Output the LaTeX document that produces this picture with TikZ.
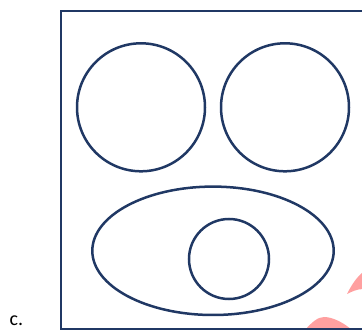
\documentclass[tikz,border=0pt]{standalone}
\usepackage{fontspec}
\setmainfont{Carlito}
\definecolor{navy}{RGB}{32,56,100}
\definecolor{wm}{RGB}{255,160,160}
\begin{document}
\begin{tikzpicture}[x=1pt,y=-1pt,
  shapeline/.style={draw=navy,line width=2.5pt}]
\useasboundingbox (0,0) rectangle (362,331);
\begin{scope}
\clip (0,0) rectangle (362,331);
% watermark fragments
\fill[wm] (347,294) .. controls (352,284) and (357,277) .. (363,272) -- (363,289) .. controls (357,289) and (351,292) .. (347,294) -- cycle;
\fill[wm] (305,330) .. controls (312,322) and (318,317) .. (324,317) .. controls (333,317) and (344,323) .. (352,330) -- cycle;
% frame (right side beyond picture)
\draw[draw=navy,line width=2.4pt] (370,11.3) coordinate (tr) -- (61,11.3) coordinate (tl) -- (61,328.8) coordinate (bl) -- (370,328.8) coordinate (br);
\end{scope}
\node[shapeline,circle,minimum size=128pt,inner sep=0pt] (c1) at (141,107.3) {};
\node[shapeline,circle,minimum size=128pt,inner sep=0pt] (c2) at (285,107.3) {};
\draw[shapeline] (213,250.8) ellipse [x radius=120.7, y radius=64.2];
\coordinate (e) at (213,250.8);
\node[shapeline,circle,minimum size=80pt,inner sep=0pt] (c3) at (229,259) {};
\node[anchor=base west,inner sep=0pt,text depth=0pt,font=\fontsize{20}{24}\selectfont] (lab) at (9.5,325.5) {c.};
\end{tikzpicture}
\end{document}
